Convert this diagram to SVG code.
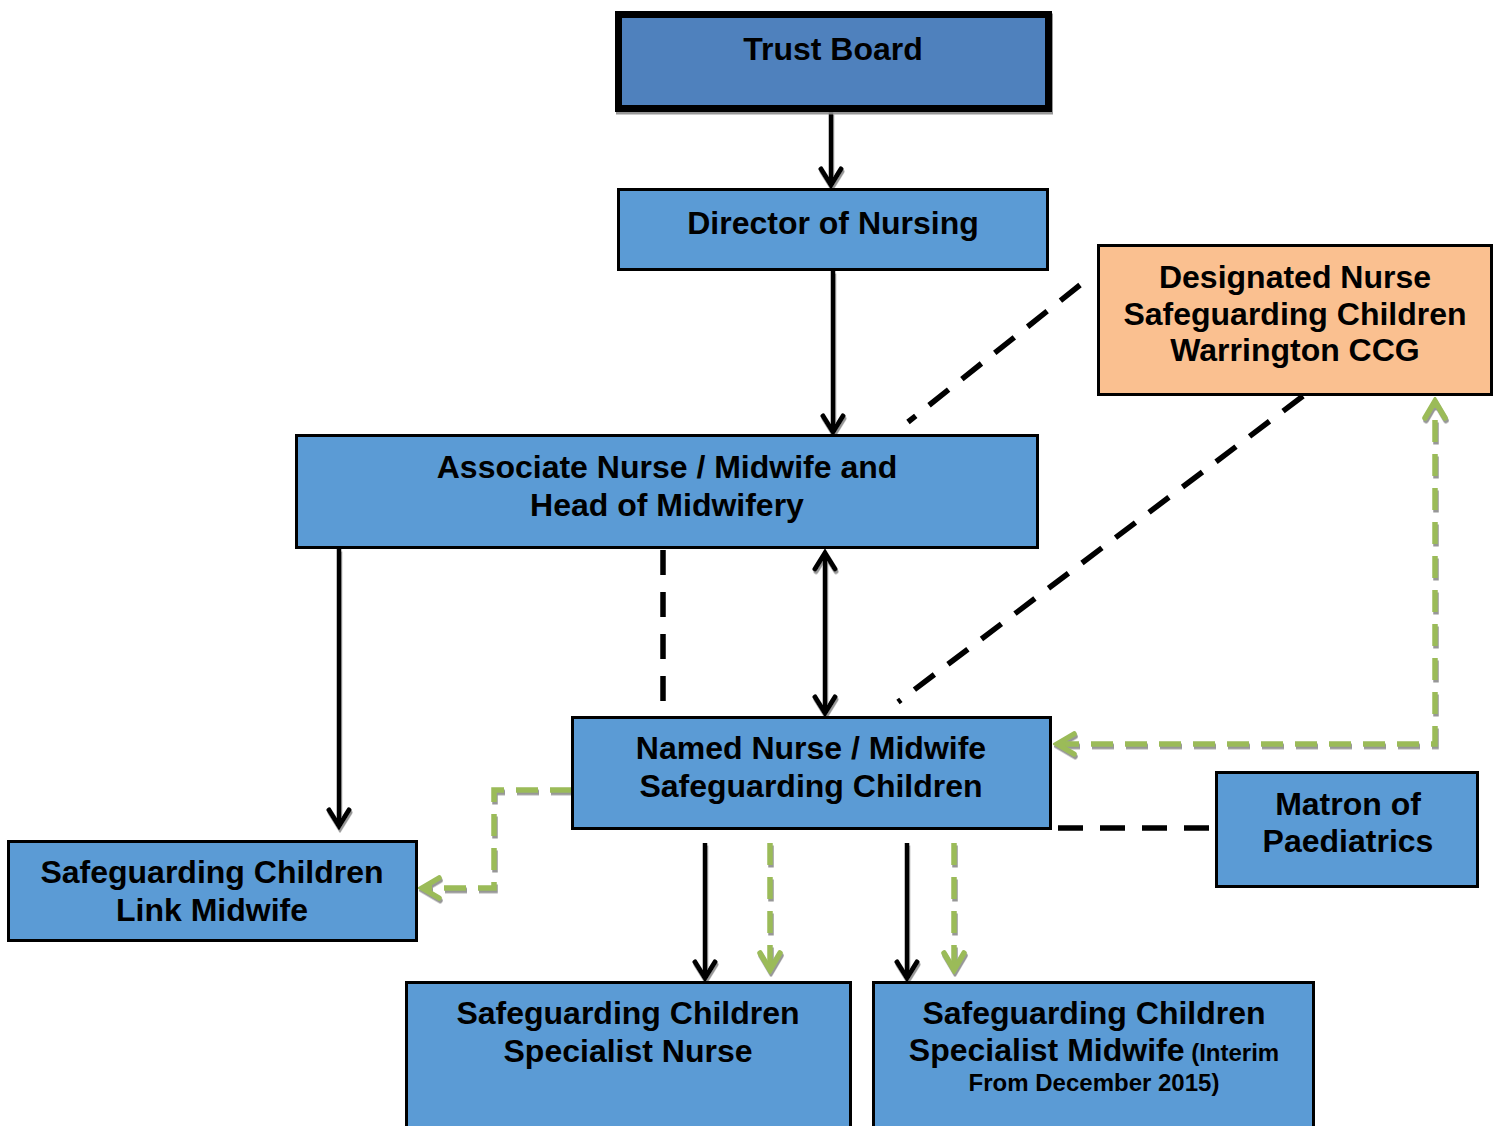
<svg xmlns="http://www.w3.org/2000/svg" width="1501" height="1126" viewBox="0 0 1501 1126">
  <style>
    .box { fill: #5b9bd5; stroke: #000; stroke-width: 3; }
    .t { font-family: "Liberation Sans", Arial, sans-serif; font-weight: bold; font-size: 32px; fill: #000; text-anchor: middle; }
    .s { font-size: 24px; }
    .arrow { fill: none; stroke: #000; stroke-width: 4.5; }
    .bdash { fill: none; stroke: #000; stroke-width: 5.5; stroke-dasharray: 25 17; }
    .gdash { fill: none; stroke: #9bbb59; stroke-width: 5.5; stroke-dasharray: 22 12; }
  </style>
  <defs>
    <filter id="sh" filterUnits="userSpaceOnUse" x="0" y="0" width="1501" height="1126">
      <feDropShadow dx="1" dy="2.5" stdDeviation="0.4" flood-color="#8c8c8c" flood-opacity="0.9"/>
    </filter>
    <marker id="ab" viewBox="-22 -14 26 28" markerWidth="26" markerHeight="28" refX="0" refY="0" orient="auto-start-reverse" markerUnits="userSpaceOnUse">
      <path d="M -16 -10 L 0 0 L -16 10" fill="none" stroke="#000" stroke-width="5" stroke-linecap="round"/>
    </marker>
    <marker id="ag" viewBox="-22 -14 26 28" markerWidth="26" markerHeight="28" refX="0" refY="0" orient="auto-start-reverse" markerUnits="userSpaceOnUse">
      <path d="M -17 -10 L 0 0 L -17 10" fill="none" stroke="#9bbb59" stroke-width="5.5" stroke-linecap="round"/>
    </marker>
  </defs>
  <rect width="1501" height="1126" fill="#fff"/>

  <g id="connectors">
    <path class="arrow" filter="url(#sh)" d="M 831 112 V 185" marker-end="url(#ab)"/>
    <path class="arrow" filter="url(#sh)" d="M 833 271 V 432" marker-end="url(#ab)"/>
    <path class="arrow" filter="url(#sh)" d="M 825 553 V 713" marker-start="url(#ab)" marker-end="url(#ab)"/>
    <path class="arrow" filter="url(#sh)" d="M 339 549 V 826" marker-end="url(#ab)"/>
    <path class="bdash" d="M 663 550 V 702"/>
    <path class="bdash" d="M 1080 285 L 908 422"/>
    <path class="bdash" d="M 1303 396 L 898 702"/>
    <path class="bdash" d="M 1058 828 H 1210" stroke-dasharray="24 18"/>
    <path class="gdash" filter="url(#sh)" d="M 1057 744 H 1435 V 401" marker-start="url(#ag)" marker-end="url(#ag)"/>
    <path class="gdash" filter="url(#sh)" d="M 572 790 H 494 V 888 H 422" marker-end="url(#ag)"/>
    <path class="arrow" filter="url(#sh)" d="M 705 843 V 978" marker-end="url(#ab)"/>
    <path class="gdash" filter="url(#sh)" d="M 770 843 V 970" stroke-dasharray="24 13" marker-end="url(#ag)"/>
    <path class="arrow" filter="url(#sh)" d="M 907 843 V 978" marker-end="url(#ab)"/>
    <path class="gdash" filter="url(#sh)" d="M 954 843 V 970" stroke-dasharray="24 13" marker-end="url(#ag)"/>
  </g>

  <g id="trust-board">
    <rect x="618.5" y="14.5" width="430" height="94" fill="#4f81bd" stroke="#000" stroke-width="7" filter="url(#sh)"/>
    <text class="t" x="833" y="59.5">Trust Board</text>
  </g>
  <g id="director-of-nursing">
    <rect class="box" x="618.5" y="189.5" width="429" height="80"/>
    <text class="t" x="833" y="233.5">Director of Nursing</text>
  </g>
  <g id="designated-nurse">
    <rect x="1098.5" y="245.5" width="393" height="149" fill="#fac090" stroke="#000" stroke-width="3"/>
    <text class="t" x="1295" y="288">Designated Nurse</text>
    <text class="t" x="1295" y="324.5">Safeguarding Children</text>
    <text class="t" x="1295" y="361">Warrington CCG</text>
  </g>
  <g id="associate-nurse">
    <rect class="box" x="296.5" y="435.5" width="741" height="112"/>
    <text class="t" x="667" y="478">Associate Nurse / Midwife and</text>
    <text class="t" x="667" y="516">Head of Midwifery</text>
  </g>
  <g id="named-nurse">
    <rect class="box" x="572.5" y="717.5" width="478" height="111"/>
    <text class="t" x="811" y="759">Named Nurse / Midwife</text>
    <text class="t" x="811" y="797">Safeguarding Children</text>
  </g>
  <g id="matron">
    <rect class="box" x="1216.5" y="772.5" width="261" height="114"/>
    <text class="t" x="1348" y="815">Matron of</text>
    <text class="t" x="1348" y="852">Paediatrics</text>
  </g>
  <g id="link-midwife">
    <rect class="box" x="8.5" y="841.5" width="408" height="99"/>
    <text class="t" x="212" y="883">Safeguarding Children</text>
    <text class="t" x="212" y="921">Link Midwife</text>
  </g>
  <g id="specialist-nurse">
    <rect class="box" x="406.5" y="982.5" width="444" height="160"/>
    <text class="t" x="628" y="1024">Safeguarding Children</text>
    <text class="t" x="628" y="1062">Specialist Nurse</text>
  </g>
  <g id="specialist-midwife">
    <rect class="box" x="873.5" y="982.5" width="440" height="160"/>
    <text class="t" x="1094" y="1024">Safeguarding Children</text>
    <text class="t" x="1094" y="1061">Specialist Midwife<tspan class="s"> (Interim</tspan></text>
    <text class="t s" x="1094" y="1091">From December 2015)</text>
  </g>
</svg>
